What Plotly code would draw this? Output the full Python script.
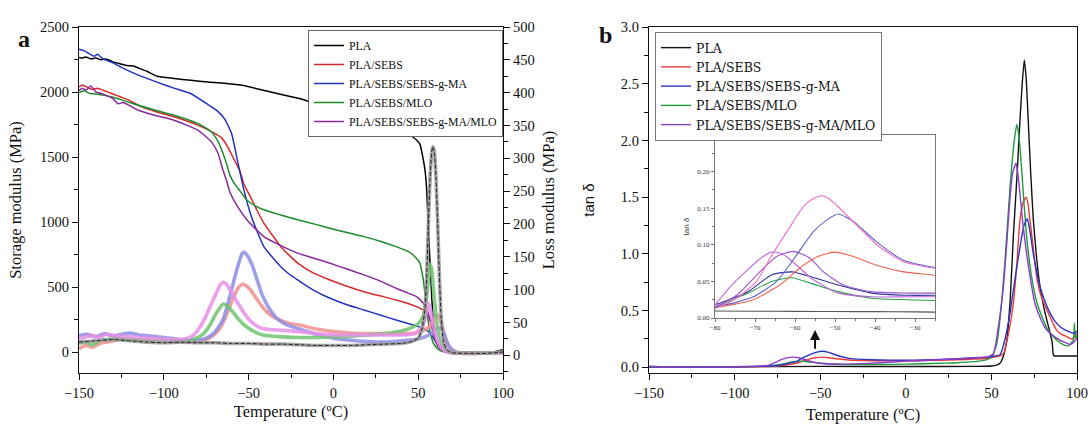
import plotly.graph_objects as go

# ---------------- Panel a: storage modulus (left axis) ----------------
T_PLA_E = [-150,-148,-146,-143,-140,-137,-134,-130,-126,-122,-118,-114,-110,-104,-94,-84,-74,-64,-53,-40,-30,-20,-10,0,8,20,30,40,45,49,51,53,54,55,56,57,58,59,60,62,65,70,80,90,95,100]
E_PLA = [2266,2262,2270,2255,2262,2248,2255,2232,2218,2205,2200,2180,2160,2122,2105,2090,2078,2068,2050,2010,1980,1950,1910,1890,1873,1820,1770,1710,1670,1632,1600,1480,1400,1250,950,680,420,220,100,40,12,0,0,0,5,20]

T_SEBS_E = [-150,-148,-145,-142,-139,-135,-130,-125,-121,-115,-105,-94,-80,-70,-66,-63,-60,-57,-55,-53,-49,-45,-41,-36,-31,-26,-21,-12,-2,8,18,28,37,44,49,53,55,57,59,61,63,65,67,70,80,90,100]
E_SEBS = [2040,2055,2035,2020,2030,2010,1985,1960,1940,1898,1850,1810,1746,1683,1650,1594,1520,1442,1390,1300,1197,1090,992,900,812,745,685,610,556,508,466,432,402,375,351,325,305,250,150,69,30,10,3,0,0,0,5]

T_MA_E = [-150,-147,-144,-141,-139,-136,-130,-125,-115,-104,-94,-84,-74,-68,-64,-60,-57,-55,-53,-49,-45,-41,-36,-31,-26,-21,-12,-2,8,18,28,37,44,49,53,55,57,59,61,63,65,67,70,80,90,100]
E_MA = [2330,2318,2295,2275,2290,2255,2225,2190,2130,2076,2030,1987,1904,1850,1790,1680,1500,1380,1260,1069,930,812,730,658,600,556,480,415,365,325,285,248,222,202,185,170,146,110,70,35,15,5,0,0,0,5]

T_MLO_E = [-150,-147,-144,-140,-135,-130,-125,-115,-105,-94,-80,-72,-68,-65.5,-63,-61,-58,-55,-51,-46,-41,-31,-21,-11,-2,8,18,28,37,44,47,50,51,52,53,54,55,56,57,59,62,65,70,80,90,100]
E_MLO = [1995,2010,1990,1985,1975,1960,1940,1898,1860,1822,1759,1695,1620,1543,1450,1360,1290,1239,1170,1125,1095,1055,1018,985,954,920,889,852,812,775,748,705,685,630,556,450,325,230,160,69,20,5,0,0,0,5]

T_ALL_E = [-150,-148,-146,-143,-140,-137,-134,-130,-127,-124,-120,-115,-105,-94,-80,-72,-68,-65.5,-63,-61,-56,-51,-46,-41,-31,-21,-12,-2,8,18,28,37,44,49,53,55,57,59,61,63,66,70,80,90,100]
E_ALL = [2010,2030,2015,2046,2000,1990,1975,1950,1910,1920,1895,1860,1820,1784,1708,1619,1530,1416,1320,1230,1110,1018,950,889,820,762,725,685,640,595,545,492,455,428,377,330,250,140,69,25,3,0,0,0,5]

# ---------------- Panel a: loss modulus (right axis) ----------------
T_PLA_L = [-150,-140,-130,-120,-110,-100,-90,-80,-70,-60,-50,-40,-30,-20,-10,0,10,20,30,40,45,50,52,54,55,56,57,58,58.6,59.5,60.5,61.5,62.5,63.5,65,67,70,80,90,100]
L_PLA = [20,22,24,22,20,19,20,19,19,18,18,17,17,16,15,15,15,16,17,18,20,26,38,70,120,200,270,310,318,310,270,200,120,60,20,8,4,3,3,5]

T_SEBS_L = [-150,-146,-142,-138,-134,-130,-125,-120,-110,-100,-90,-80,-74,-70,-66,-62,-59,-56,-54,-52,-49,-45,-40,-35,-30,-25,-20,-10,0,10,20,30,40,48,53,57,60,61.3,63,65,67,70,75,85,100]
L_SEBS = [10,15,12,18,20,22,25,24,22,21,20,21,25,32,45,68,88,103,108,107,100,85,68,58,52,48,46,40,36,34,33,33,33,34,38,45,58,62,55,35,18,8,3,3,4]

T_MA_L = [-150,-145,-140,-135,-130,-125,-120,-115,-110,-100,-90,-80,-75,-70,-65,-61,-57,-54,-53,-51,-48,-45,-42,-38,-34,-30,-25,-20,-10,0,10,20,30,40,48,53,57,60,63,65,67,70,75,85,100]
L_MA = [30,32,28,33,30,32,34,31,30,27,24,23,26,35,55,90,130,154,157,153,138,115,92,72,58,50,44,40,32,26,23,21,20,22,24,27,32,38,42,35,20,8,3,3,4]

T_MLO_L = [-150,-146,-142,-138,-134,-130,-120,-110,-100,-90,-82,-77,-73,-70,-67,-65,-63,-60,-56,-52,-48,-44,-40,-30,-20,-10,0,10,20,30,40,45,50,53,55,56.5,57,58,59,61,63,66,70,80,100]
L_MLO = [18,20,16,22,24,25,24,23,22,22,25,32,45,60,72,78,76,68,55,45,38,33,30,28,27,27,28,29,31,33,37,41,48,60,90,130,139,130,100,50,20,8,4,3,4]

T_ALL_L = [-150,-146,-142,-138,-134,-130,-125,-120,-110,-100,-90,-84,-80,-76,-72,-69,-66.5,-65,-63,-60,-56,-52,-48,-44,-40,-30,-20,-10,0,10,20,30,40,48,52,54,56,57,59,61,64,68,75,100]
L_ALL = [25,28,30,27,32,30,29,28,26,25,24,28,38,55,78,95,108,111,108,96,78,62,50,43,40,38,36,33,31,31,31,31,31,33,42,55,79,72,45,25,10,4,3,4]

# ---------------- Panel b: tan delta ----------------
T_PLA_D = [-150,-100,-50,0,40,50,53,55,57,59,61,62.8,65,66.7,68,69.2,70.3,71.5,73,74.5,76.5,78.4,80.5,82.3,84,85.5,86.2,87,90,95,100]
D_PLA = [0.005,0.005,0.008,0.007,0.008,0.012,0.02,0.035,0.1,0.24,0.6,1.15,1.7,2.18,2.5,2.71,2.55,2.18,1.7,1.3,0.95,0.71,0.54,0.42,0.32,0.22,0.11,0.1,0.1,0.1,0.1]

T_SEBS_D = [-150,-100,-85,-75,-68,-62,-57,-53,-49,-45,-40,-33,-25,-10,0,10,20,30,40,48,52,55,57,60,62.8,64.8,66.7,68.5,70.2,71.3,72.5,74.5,76.4,79,82.3,85,88,91,94,97,100]
D_SEBS = [0.005,0.005,0.006,0.012,0.025,0.045,0.07,0.085,0.09,0.085,0.075,0.065,0.06,0.057,0.057,0.06,0.063,0.067,0.072,0.08,0.09,0.1,0.12,0.3,0.56,0.9,1.3,1.45,1.5,1.45,1.3,1.05,0.8,0.63,0.51,0.42,0.33,0.29,0.27,0.25,0.3]

T_MA_D = [-150,-100,-85,-75,-70,-64,-60,-55,-52,-49,-45,-40,-33,-25,-15,0,10,20,30,40,48,52,55,58,60.9,63.8,66.7,69,71,72.5,74.5,78.4,81.3,84.2,87,90,93,96,98,100]
D_MA = [0.005,0.005,0.008,0.016,0.03,0.05,0.085,0.118,0.134,0.142,0.132,0.104,0.079,0.07,0.065,0.063,0.065,0.07,0.075,0.082,0.09,0.1,0.11,0.25,0.48,0.78,1.06,1.25,1.31,1.2,1.0,0.71,0.58,0.48,0.41,0.36,0.33,0.31,0.3,0.32]

T_MLO_D = [-150,-100,-85,-75,-70,-66,-61,-56,-49,-41,-30,-15,0,10,20,30,40,47,50.2,53,55,58,60.9,63,64.8,66,67.7,69,70.6,72.5,74.5,77,80.3,83,86.2,89,92,95,97.9,98.5,99,100]
D_MLO = [0.005,0.005,0.008,0.02,0.034,0.05,0.055,0.047,0.036,0.027,0.025,0.025,0.028,0.032,0.036,0.04,0.05,0.065,0.09,0.2,0.42,0.95,1.59,1.95,2.14,2.05,1.74,1.45,1.15,0.9,0.71,0.55,0.42,0.33,0.27,0.23,0.2,0.19,0.24,0.39,0.26,0.28]

T_ALL_D = [-150,-140,-100,-88,-80,-76,-72,-66,-62,-56,-49,-41,-30,-15,0,10,20,30,40,48,51.2,54,57,59,60.9,62.5,64.4,65.5,66.7,68.5,70.6,73,75.5,79,82.3,86,90,93,96,98,100]
D_ALL = [0.01,0.005,0.005,0.01,0.018,0.045,0.072,0.09,0.082,0.054,0.034,0.029,0.03,0.04,0.055,0.06,0.068,0.075,0.085,0.095,0.12,0.35,0.71,1.1,1.5,1.72,1.8,1.7,1.53,1.25,1.0,0.76,0.56,0.42,0.33,0.28,0.24,0.22,0.2,0.22,0.26]

# ---------------- Inset: tan delta, -80 to -25 C ----------------
IN_T_PINK = [-80,-74.6,-69.6,-66.2,-62,-57.9,-55.5,-53.3,-51.5,-49.6,-44.6,-39.6,-32.9,-26.2,-25]
IN_PINK = [0.013,0.027,0.05,0.082,0.118,0.152,0.163,0.167,0.163,0.154,0.127,0.1,0.077,0.069,0.068]
IN_T_BLUE = [-80,-75,-70.4,-64.6,-59.6,-55.4,-52,-49.2,-45.4,-39.6,-32.9,-26.2,-25]
IN_BLUE = [0.015,0.021,0.029,0.05,0.086,0.118,0.134,0.142,0.132,0.104,0.079,0.07,0.069]
IN_T_RED = [-80,-75,-70.4,-63.8,-57.9,-53.8,-50,-45.4,-39.6,-32.9,-26.2,-25]
IN_RED = [0.014,0.019,0.025,0.045,0.072,0.085,0.09,0.084,0.072,0.063,0.059,0.058]
IN_T_VIOLET = [-80,-75.8,-72,-68,-65.8,-63.5,-61.7,-55.8,-49.2,-40.8,-32,-25]
IN_VIOLET = [0.018,0.045,0.065,0.084,0.09,0.088,0.082,0.054,0.034,0.029,0.029,0.029]
IN_T_PURPLE = [-80,-74.6,-68.8,-64.6,-60.4,-56.3,-52.9,-47.9,-41.2,-32,-25]
IN_PURPLE = [0.015,0.031,0.063,0.084,0.091,0.082,0.063,0.045,0.036,0.034,0.034]
IN_T_DBLUE = [-80,-76,-71.7,-65.8,-60.8,-55.8,-49.2,-40.8,-32,-25]
IN_DBLUE = [0.018,0.026,0.036,0.059,0.063,0.056,0.045,0.034,0.031,0.031]
IN_T_GREEN = [-80,-76,-71.7,-65.8,-60.8,-55.8,-49.2,-40.8,-32,-25]
IN_GREEN = [0.015,0.024,0.034,0.05,0.055,0.047,0.036,0.027,0.025,0.024]
IN_T_BLACK = [-80,-70,-60,-50,-40,-30,-25]
IN_BLACK = [0.0096,0.0093,0.009,0.0088,0.0087,0.0083,0.008]

NAMES = ["PLA", "PLA/SEBS", "PLA/SEBS/SEBS-g-MA", "PLA/SEBS/MLO", "PLA/SEBS/SEBS-g-MA/MLO"]

SERIF = "Liberation Serif"
LEGSERIF = "DejaVu Serif"
W, H = 1091, 431

def fx(px):
    return px / W

def fy(py):
    return 1 - py / H

fig = go.Figure()

cols_a = ["#000000", "#d42a2a", "#2233bb", "#1a8a2a", "#8a2a9a"]
storage = [(T_PLA_E, E_PLA), (T_SEBS_E, E_SEBS), (T_MA_E, E_MA), (T_MLO_E, E_MLO), (T_ALL_E, E_ALL)]
loss_cols = ["#9a9a9a", "#f29090", "#8f8fe6", "#70c470", "#e890e8"]
loss = [(T_PLA_L, L_PLA), (T_SEBS_L, L_SEBS), (T_MA_L, L_MA), (T_MLO_L, L_MLO), (T_ALL_L, L_ALL)]

for i in [1, 2, 3, 4, 0]:
    t, v = loss[i]
    fig.add_trace(go.Scatter(x=t, y=v, mode="lines", line=dict(color=loss_cols[i], width=3.6, shape="spline", smoothing=0.6),
                             opacity=0.85, xaxis="x", yaxis="y2", showlegend=False, name=NAMES[i] + " E''"))
fig.add_trace(go.Scatter(x=T_PLA_L, y=L_PLA, mode="lines", line=dict(color="#222222", width=1, dash="4px,2px", shape="spline", smoothing=0.6),
                         xaxis="x", yaxis="y2", showlegend=False, name="PLA E'' line"))

for i, (t, v) in enumerate(storage):
    fig.add_trace(go.Scatter(x=t, y=v, mode="lines", line=dict(color=cols_a[i], width=1.5, shape="spline", smoothing=0.5),
                             xaxis="x", yaxis="y", name=NAMES[i], legend="legend"))

cols_b = ["#111111", "#ee3b3b", "#2a36c0", "#1f9c3c", "#8b3cc8"]
tand = [(T_PLA_D, D_PLA), (T_SEBS_D, D_SEBS), (T_MA_D, D_MA), (T_MLO_D, D_MLO), (T_ALL_D, D_ALL)]
for i in [0, 1, 3, 2, 4]:
    t, v = tand[i]
    fig.add_trace(go.Scatter(x=t, y=v, mode="lines", line=dict(color=cols_b[i], width=1.4, shape="spline", smoothing=0.5),
                             xaxis="x2", yaxis="y3", name=NAMES[i], legend="legend2", legendrank=i))

inset = [(IN_T_BLACK, IN_BLACK, "#555555"), (IN_T_GREEN, IN_GREEN, "#2aa048"), (IN_T_DBLUE, IN_DBLUE, "#333399"),
         (IN_T_PURPLE, IN_PURPLE, "#9a55cc"), (IN_T_VIOLET, IN_VIOLET, "#c066dd"), (IN_T_RED, IN_RED, "#f06050"),
         (IN_T_BLUE, IN_BLUE, "#6060cc"), (IN_T_PINK, IN_PINK, "#f070c8")]
for t, v, c in inset:
    fig.add_trace(go.Scatter(x=t, y=v, mode="lines", line=dict(color=c, width=1.1, shape="spline", smoothing=0.6),
                             xaxis="x3", yaxis="y4", showlegend=False))

axfont = dict(family=SERIF, size=14.5, color="#111")
common = dict(showgrid=False, zeroline=False, showline=True, linecolor="#111", linewidth=1.4, automargin=False,
              ticks="outside", ticklen=6, tickwidth=1.3, tickcolor="#111", tickfont=axfont)
inset_ax = dict(showgrid=False, zeroline=False, showline=True, linecolor="#777", linewidth=1, automargin=False,
                ticks="outside", ticklen=3, tickcolor="#777", tickfont=dict(family=SERIF, size=7, color="#333"), mirror=True)

fig.update_layout(
    width=W, height=H, margin=dict(l=0, r=0, t=0, b=0, autoexpand=False),
    paper_bgcolor="white", plot_bgcolor="white",
    font=dict(family=SERIF, color="#111"),
    xaxis=dict(domain=[fx(79), fx(503)], anchor="y", range=[-150, 100], tick0=-150, dtick=50, mirror=True,
               minor=dict(ticks="outside", dtick=25, ticklen=3.5, tickcolor="#111"),
               title=dict(text="Temperature (ºC)", font=dict(family=SERIF, size=16.5), standoff=5), **common),
    yaxis=dict(domain=[fy(373), fy(27)], anchor="x", range=[-159, 2500], tick0=0, dtick=500,
               minor=dict(ticks="outside", dtick=250, ticklen=3.5, tickcolor="#111"),
               title=dict(text="Storage modulus (MPa)", font=dict(family=SERIF, size=16.5), standoff=14), **common),
    yaxis2=dict(overlaying="y", side="right", anchor="x", range=[-27, 500], tick0=0, dtick=50,
                minor=dict(ticks="outside", dtick=25, ticklen=3.5, tickcolor="#111"),
                title=dict(text="Loss modulus (MPa)", font=dict(family=SERIF, size=16.5), standoff=8), **common),
    xaxis2=dict(domain=[fx(649), fx(1077)], anchor="y3", range=[-150, 100], tick0=-150, dtick=50, mirror=True,
                minor=dict(ticks="outside", dtick=25, ticklen=3.5, tickcolor="#111"),
                title=dict(text="Temperature (ºC)", font=dict(family=SERIF, size=16.5), standoff=8), **common),
    yaxis3=dict(domain=[fy(373), fy(27)], anchor="x2", range=[-0.05, 3.0], tick0=0, dtick=0.5, tickformat=".1f", mirror=True,
                minor=dict(ticks="outside", dtick=0.25, ticklen=3.5, tickcolor="#111"),
                title=dict(text="tan δ", font=dict(family="Liberation Sans", size=15), standoff=22), **common),
    xaxis3=dict(domain=[fx(715), fx(935)], anchor="y4", range=[-80, -25], tick0=-80, dtick=10,
                minor=dict(ticks="outside", dtick=5, ticklen=2, tickcolor="#777"), **inset_ax),
    yaxis4=dict(domain=[fy(318), fy(135)], anchor="x3", range=[0, 0.25], tick0=0, dtick=0.05, tickformat=".2f",
                minor=dict(ticks="outside", dtick=0.025, ticklen=2, tickcolor="#777"),
                title=dict(text="tan δ", font=dict(family="Liberation Sans", size=8, color="#333"), standoff=6), **inset_ax),
    legend=dict(x=fx(308), y=fy(30), xanchor="left", yanchor="top", bgcolor="white", bordercolor="#666", borderwidth=1,
                font=dict(family=SERIF, size=11.8, color="#111"), tracegroupgap=0, itemwidth=30),
    legend2=dict(x=fx(655), y=fy(32), xanchor="left", yanchor="top", bgcolor="white", bordercolor="#777", borderwidth=1,
                 font=dict(family=LEGSERIF, size=12.5, color="#111"), tracegroupgap=0, itemwidth=30),
    annotations=[
        dict(text="<b>a</b>", x=fx(16), y=fy(24), xref="paper", yref="paper", showarrow=False,
             font=dict(family=SERIF, size=24, color="#111")),
        dict(text="<b>b</b>", x=fx(605), y=fy(20), xref="paper", yref="paper", showarrow=False,
             font=dict(family=SERIF, size=24, color="#111")),
        dict(text="", x=-53, y=0.33, xref="x2", yref="y3", ax=-53, ay=0.15, axref="x2", ayref="y3",
             showarrow=True, arrowhead=2, arrowsize=1, arrowwidth=2, arrowcolor="#111"),
    ],
)

fig.write_html("out.html", config={"displayModeBar": False},
               post_script="document.body.style.margin='0';document.body.style.overflow='hidden';")
